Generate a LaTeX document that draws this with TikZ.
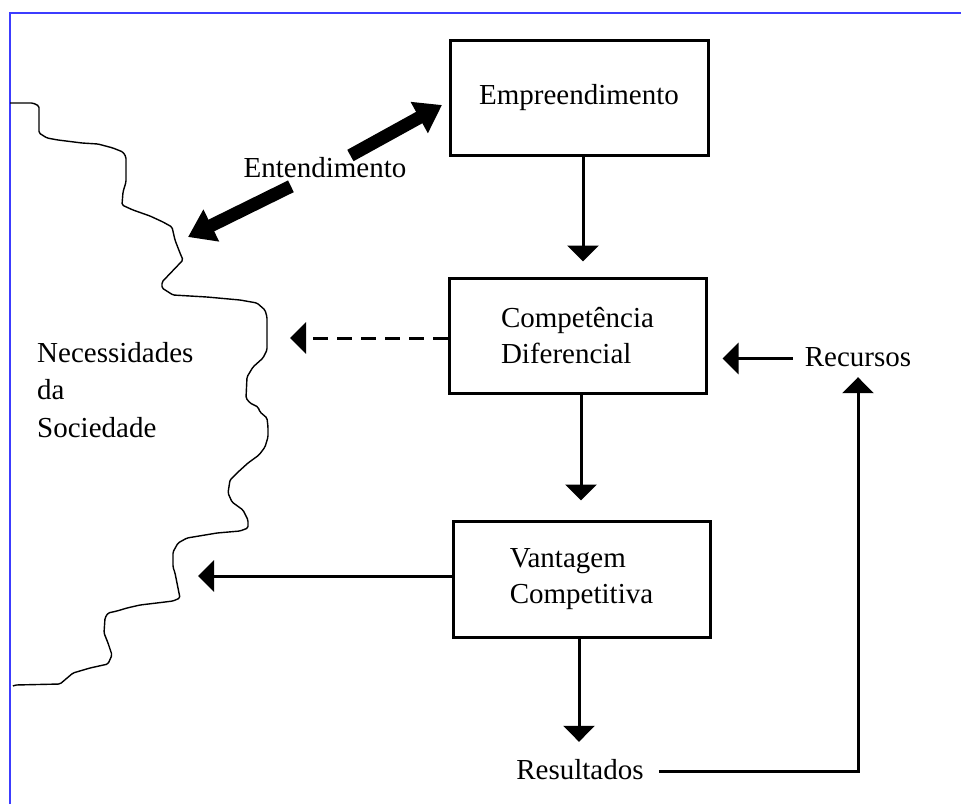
\documentclass[tikz,border=0pt]{standalone}
\usepackage{fontspec}
\setmainfont{Liberation Serif}
\usetikzlibrary{arrows.meta}
\definecolor{frameblue}{RGB}{60,60,255}
\tikzset{
  lbl/.style={font=\fontsize{29}{36}\selectfont, inner sep=0pt, text height=21pt, text depth=6pt},
  boxnode/.style={draw, line width=3pt, font=\fontsize{29}{36}\selectfont, align=left, inner sep=0pt},
  conn/.style={line width=3pt, -{Triangle[length=16pt,width=31pt]}},
  dconn/.style={conn, dash pattern=on 15pt off 9pt},
  fat/.style={line width=13pt, -{Triangle[length=26pt,width=34pt]}},
  border/.style={line width=2pt, draw=frameblue},
  coast/.style={line width=1.4pt, rounded corners=1.5pt}
}
\begin{document}
\begin{tikzpicture}[x=1pt,y=-1pt]
\useasboundingbox (0,0) rectangle (961,804);
\fill[white] (0,0) rectangle (961,804);
% frame
\draw[border] (10,804) -- (10,13) -- (961,13);
% coastline
\draw[coast] (10,103) -- (33,103) -- (39,106) -- (39,133) -- (47,138) -- (58,140) -- (82,143) -- (98,144) -- (113,148) -- (123,152) -- (126,157) -- (126,182) -- (123,192) -- (122,205) -- (133,210) -- (150,216) -- (163,222) -- (172,227) -- (175,240) -- (180,253) -- (183,260) -- (162,282) -- (162,288) -- (173,295) -- (207,297) -- (240,300) -- (257,303) -- (265,310) -- (267,317) -- (267,350) -- (263,358) -- (253,367) -- (247,377) -- (246,398) -- (250,403) -- (258,407) -- (260,412) -- (267,418) -- (268,427) -- (268,437) -- (265,447) -- (259,455) -- (248,463) -- (237,473) -- (230,480) -- (228,493) -- (232,502) -- (243,510) -- (248,520) -- (248,528) -- (240,531) -- (217,533) -- (187,538) -- (178,543) -- (173,552) -- (173,567) -- (175,573) -- (177,583) -- (180,598) -- (173,601) -- (165,602) -- (140,605) -- (127,608) -- (117,611) -- (108,613) -- (105,618) -- (104,633) -- (108,643) -- (112,655) -- (108,664) -- (90,668) -- (73,673) -- (60,684) -- (15,685) -- (13,686);
% boxes
\node[boxnode, minimum width=258pt, minimum height=115pt] (emp) at (579,97.5) {Empreendimento};
\node[boxnode, minimum width=257pt, minimum height=115pt] (comp) at (577.5,335.5) {Compet\^encia\\Diferencial};
\node[boxnode, minimum width=257pt, minimum height=116pt] (vant) at (581.5,579) {Vantagem\\Competitiva};
% labels
\node[lbl, font=\fontsize{29}{37.5}\selectfont, anchor=base west, align=left] (nec) at (37,437) {Necessidades\\da\\Sociedade};
\node[lbl, anchor=base, inner xsep=12pt, inner ysep=5pt] (rec) at (858,366) {Recursos};
\node[lbl, anchor=base, inner xsep=15pt, inner ysep=16pt] (res) at (580,779) {Resultados};
\node[lbl, anchor=base, inner sep=0pt] (ent) at (325,177) {Entendimento};
% coordinates
\coordinate (tipU) at (442,105);
\coordinate (tipL) at (188,237);
\coordinate (dtip) at (290,338);
\coordinate (vtip) at (198,576);
\coordinate (corner) at (858,773);
% fat double arrow
\draw[fat, shorten <=29pt] (ent.center) -- (tipU);
\draw[fat, shorten <=38pt] (ent.center) -- (tipL);
% connectors
\draw[conn, shorten >=15pt] ([xshift=4pt]emp.south) -- ([xshift=4pt]emp.south |- comp.north);
\draw[conn, shorten >=19pt] ([xshift=3.5pt]comp.south) -- ([xshift=3.5pt]comp.south |- vant.north);
\draw[conn] ([xshift=-2.5pt]vant.south) -- ([xshift=-2.5pt]vant.south |- res.north);
\draw[dconn] (comp.west |- dtip) -- (dtip);
\draw[conn] (vant.west |- vtip) -- (vtip);
\draw[conn, shorten >=15pt] (rec.west) -- (rec.west -| comp.east);
\draw[conn] (res.east) -- (res.east -| corner) -- (rec.south);
\end{tikzpicture}
\end{document}
